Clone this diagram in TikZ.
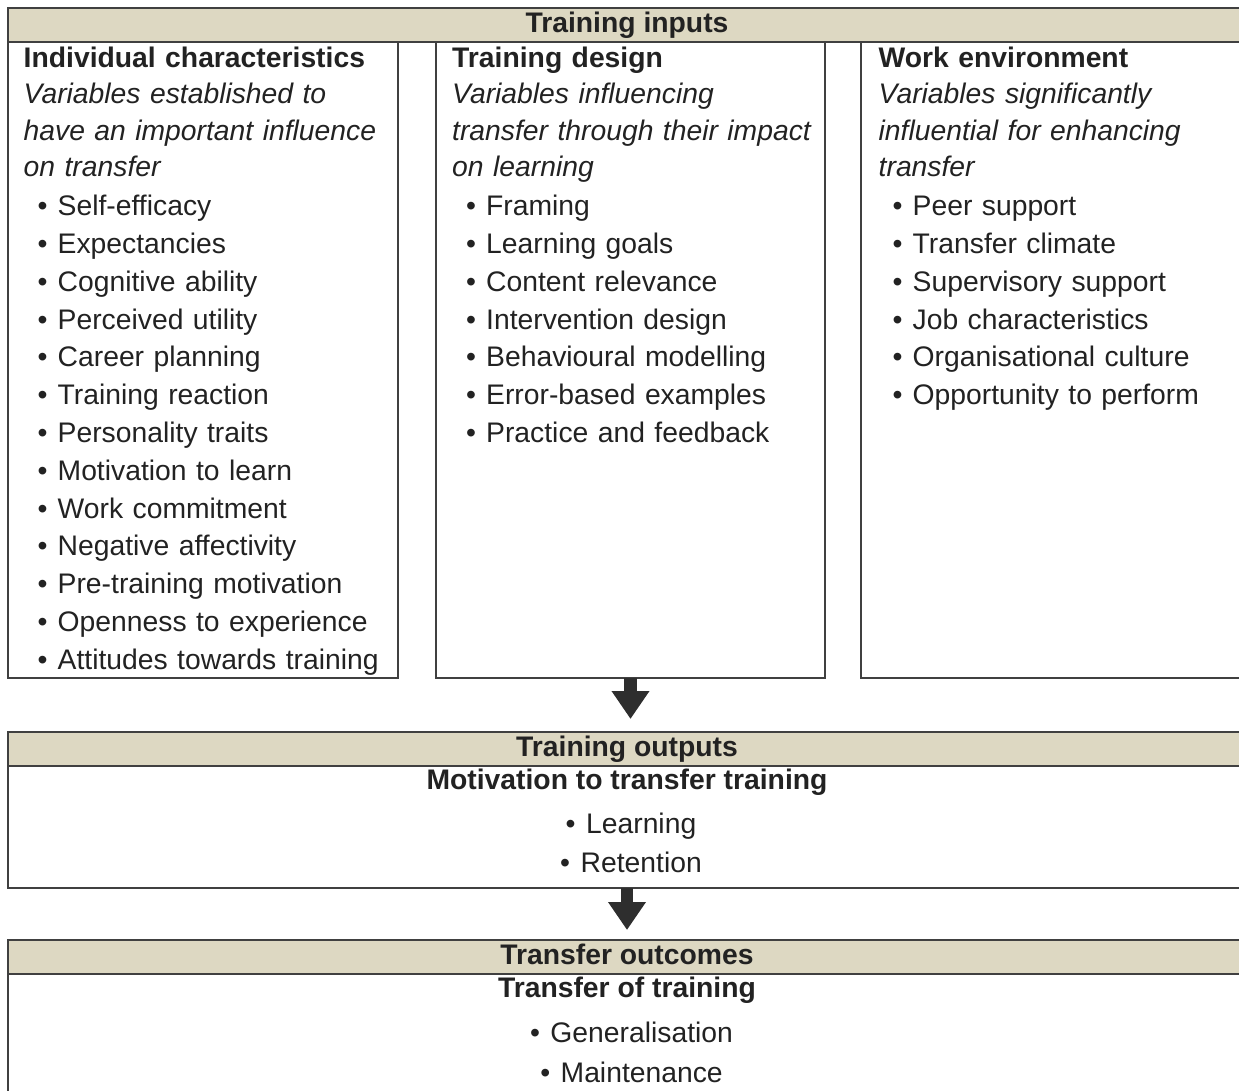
\documentclass[tikz,border=0pt]{standalone}
\usepackage{fontspec}
\setmainfont{Liberation Sans}
\usetikzlibrary{arrows.meta}
\definecolor{barfill}{HTML}{DDD8C2}
\definecolor{ink}{HTML}{222222}
\newcommand{\itembul}{\makebox[34pt][l]{\hspace*{14pt}\textbullet}}

\begin{document}
\begin{tikzpicture}[x=1pt,y=-1pt,text=ink,
	font=\fontsize{28.3}{37.8}\selectfont,
	bar/.style={draw=black!75,line width=1.4pt,fill=barfill,inner sep=0pt,outer sep=0pt,
		anchor=north west,minimum width=1238pt,minimum height=34pt,
		font=\fontsize{28.3}{37.8}\selectfont\bfseries,text height=20pt,text depth=6pt},
	panel/.style={draw=black!75,line width=1.4pt,inner sep=0pt,outer sep=0pt,anchor=north west},
	coltext/.style={anchor=north west,inner sep=0pt,text width=372pt,align=left},
	flow/.style={draw=black!82,line width=12.5pt,-{Triangle[width=36pt,length=28pt]}}]
	\useasboundingbox (0,0) rectangle (1239,1090);
	
	\node[bar] (inbar) at (8,8) {Training inputs};
	\node[panel,minimum width=390pt,minimum height=636pt] (icbox) at (8,42) {};
	\node[panel,minimum width=389pt,minimum height=636pt] (tdbox) at (436,42) {};
	\node[panel,minimum width=385pt,minimum height=636pt] (webox) at (861,42) {};
	
	\node[coltext] (ictext) at ([xshift=15.5pt,yshift=1.5pt]icbox.north west) {\strut\textbf{Individual characteristics}\\[-1.3pt]
		\textit{Variables established to}\\[-1.3pt]
		\textit{have an important influence}\\[-1.3pt]
		\textit{on transfer}\\[1.2pt]
		\itembul Self-efficacy\\
		\itembul Expectancies\\
		\itembul Cognitive ability\\
		\itembul Perceived utility\\
		\itembul Career planning\\
		\itembul Training reaction\\
		\itembul Personality traits\\
		\itembul Motivation to learn\\
		\itembul Work commitment\\
		\itembul Negative affectivity\\
		\itembul Pre-training motivation\\
		\itembul Openness to experience\\
		\itembul Attitudes towards training};
	\node[coltext] (tdtext) at ([xshift=16pt,yshift=1.5pt]tdbox.north west) {\strut\textbf{Training design}\\[-1.3pt]
		\textit{Variables influencing}\\[-1.3pt]
		\textit{transfer through their impact}\\[-1.3pt]
		\textit{on learning}\\[1.2pt]
		\itembul Framing\\
		\itembul Learning goals\\
		\itembul Content relevance\\
		\itembul Intervention design\\
		\itembul Behavioural modelling\\
		\itembul Error-based examples\\
		\itembul Practice and feedback};
	\node[coltext] (wetext) at ([xshift=17.5pt,yshift=1.5pt]webox.north west) {\strut\textbf{Work environment}\\[-1.3pt]
		\textit{Variables significantly}\\[-1.3pt]
		\textit{influential for enhancing}\\[-1.3pt]
		\textit{transfer}\\[1.2pt]
		\itembul Peer support\\
		\itembul Transfer climate\\
		\itembul Supervisory support\\
		\itembul Job characteristics\\
		\itembul Organisational culture\\
		\itembul Opportunity to perform};
	
	\node[bar] (outbar) at (8,732) {Training outputs};
	\node[panel,minimum width=1238pt,minimum height=122pt] (outbox) at (8,766) {};
	\node[anchor=base,font=\fontsize{28.3}{37.8}\selectfont\bfseries] (motiv) at (627,789) {Motivation to transfer training};
	\node[anchor=base] (learn) at (631,833) {\textbullet\hspace{10.5pt}Learning};
	\node[anchor=base] (retain) at (631,872) {\textbullet\hspace{10.5pt}Retention};
	
	\node[bar] (tobar) at (8,940) {Transfer outcomes};
	\node[panel,minimum width=1238pt,minimum height=140pt] (tobox) at (8,974) {};
	\node[anchor=base,font=\fontsize{28.3}{37.8}\selectfont\bfseries] (tot) at (627,997) {Transfer of training};
	\node[anchor=base] (gen) at (631.5,1042) {\textbullet\hspace{10.5pt}Generalisation};
	\node[anchor=base] (maint) at (631.5,1082) {\textbullet\hspace{10.5pt}Maintenance};
	
	\draw[flow,shorten >=13pt] (tdbox.south) -- (tdbox.south |- outbar.north);
	\draw[flow,shorten >=10pt] (outbox.south) -- (tobar.north);
\end{tikzpicture}
\end{document}
